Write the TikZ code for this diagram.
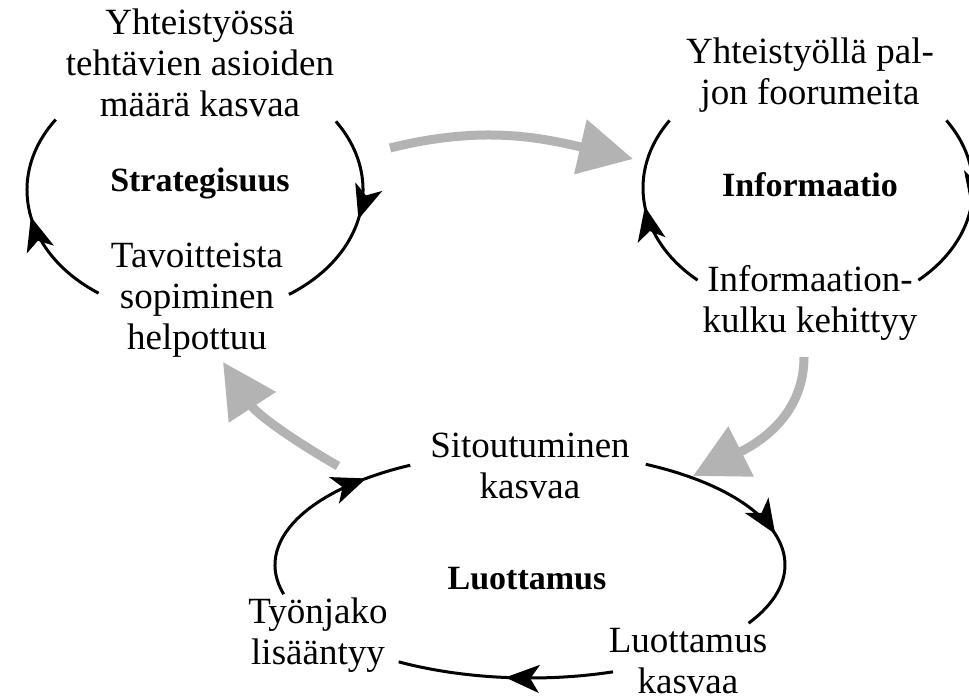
\documentclass[tikz,border=0pt]{standalone}
\usepackage{fontspec}
\setmainfont{Liberation Serif}
\usetikzlibrary{arrows.meta,decorations.markings,calc}
\definecolor{flowgray}{RGB}{179,179,179}

\begin{document}
\begin{tikzpicture}[x=1pt, y=1pt,
	txt/.style={align=center, inner sep=0pt, font=\fontsize{37}{41}\selectfont},
	hub/.style={inner sep=0pt, font=\fontsize{34}{40}\selectfont\bfseries},
	cyclearc/.style={line width=3pt, postaction={decorate},
		decoration={markings, mark=at position #1 with {\arrow{Stealth[length=34pt,width=28pt,inset=9pt]}}}},
	cyclearc/.default=0.5,
	flow/.style={line width=9pt, draw=flowgray, -{Triangle[length=54pt,width=54pt]}}]
	
	\clip (0,0) rectangle (969,700);
	
	% centres of the three loops
	\coordinate (sC) at (195,510);
	\coordinate (iC) at (808,512);
	\coordinate (lC) at (530,135);
	
	% Strategisuus
	\node[txt] (sTop) at (200,637) {Yhteistyössä\\tehtävien asioiden\\määrä kasvaa};
	\node[hub] (sHub) at (200,517) {Strategisuus};
	\node[txt] (sBot) at (197,400) {Tavoitteista\\sopiminen\\helpottuu};
	
	\draw[cyclearc] ($(sC)+(235:168 and 126)$) arc[start angle=235, end angle=146, x radius=168, y radius=126];
	\draw[cyclearc] ($(sC)+(33:168 and 126)$) arc[start angle=33, end angle=-56, x radius=168, y radius=126];
	
	% Informaatio
	\node[txt] (iTop) at (810,625) {Yhteistyöllä pal-\\jon foorumeita};
	\node[hub] (iHub) at (810,515) {Informaatio};
	\node[txt] (iBot) at (810,397) {Informaation-\\kulku kehittyy};
	
	\draw[cyclearc] ($(iC)+(228:165 and 124)$) arc[start angle=228, end angle=147, x radius=165, y radius=124];
	\draw[cyclearc] ($(iC)+(33:165 and 124)$) arc[start angle=33, end angle=-48, x radius=165, y radius=124];
	
	% Luottamus
	\node[txt] (lTop) at (530,234) {Sitoutuminen\\kasvaa};
	\node[hub] (lHub) at (527,121) {Luottamus};
	\node[txt] (lLeft) at (318,65) {Työnjako\\lisääntyy};
	\node[txt] (lRight) at (688,39) {Luottamus\\kasvaa};
	
	\draw[cyclearc=0.78] ($(lC)+(195:255 and 113)$) arc[start angle=195, end angle=118, x radius=255, y radius=113];
	\draw[cyclearc=0.59] ($(lC)+(63:255 and 113)$) arc[start angle=63, end angle=-31, x radius=255, y radius=113];
	\draw[cyclearc] ($(lC)+(-71:255 and 113)$) arc[start angle=-71, end angle=-121, x radius=255, y radius=113];
	
	% links between the loops
	\coordinate (f1s) at (390,552);
	\coordinate (f1e) at (633,541);
	\coordinate (f2s) at (804,343);
	\coordinate (f2e) at (693,224);
	\coordinate (f3s) at (338,234);
	\coordinate (f3e) at (223,338);
	
	\draw[flow] (f1s) to[out=14, in=167] (f1e);
	\draw[flow] (f2s) to[out=-90, in=27] (f2e);
	\draw[flow] (f3s) to[out=150, in=-57] (f3e);
	
\end{tikzpicture}
\end{document}
